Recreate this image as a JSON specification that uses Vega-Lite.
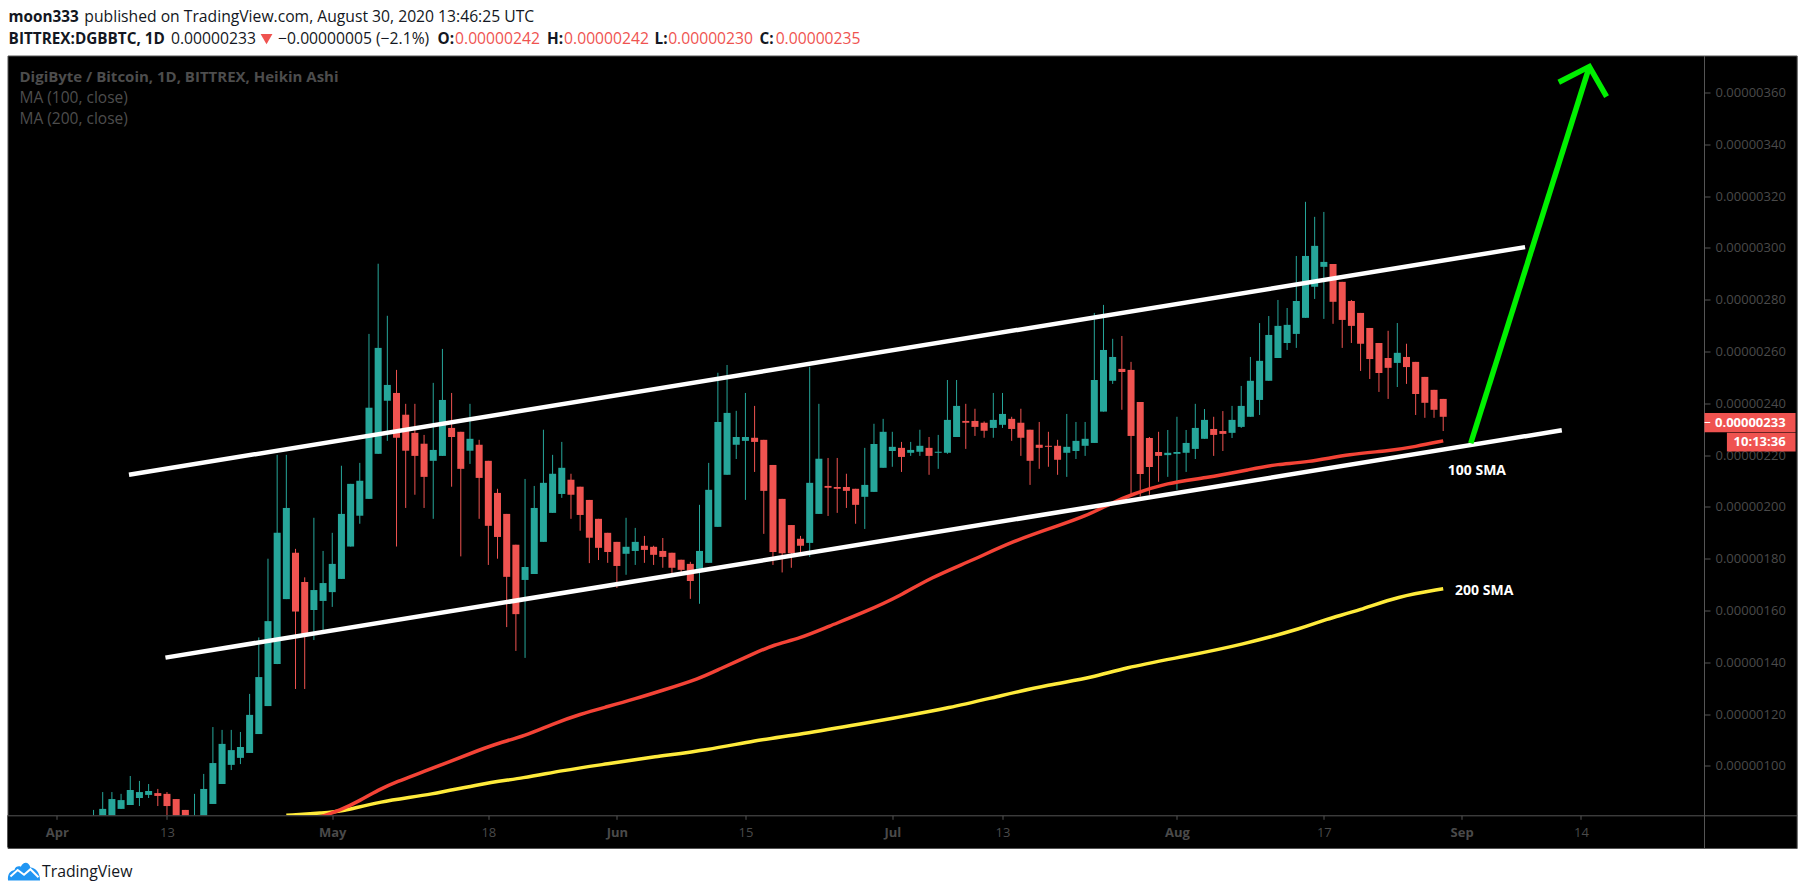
{
  "$schema": "https://vega.github.io/schema/vega-lite/v6.json",
  "autosize": {"type": "none"},
  "width": 1789.2,
  "height": 792.5,
  "padding": {"left": 7.5, "top": 55.5, "right": 8.3, "bottom": 47},
  "background": "#ffffff",
  "view": {"fill": "#000000", "stroke": "#555555"},
  "datasets": {
    "candles": [
      {"date":"2020-04-05","open":76,"high":83,"low":75,"close":79},
      {"date":"2020-04-06","open":79,"high":89.9,"low":78,"close":83.4},
      {"date":"2020-04-07","open":80,"high":89.9,"low":79,"close":87.2},
      {"date":"2020-04-08","open":83.4,"high":89.2,"low":83.4,"close":86.8},
      {"date":"2020-04-09","open":84.9,"high":96.1,"low":84.9,"close":90.7},
      {"date":"2020-04-10","open":87.6,"high":94.2,"low":84.5,"close":89.9},
      {"date":"2020-04-11","open":88.8,"high":93,"low":87.6,"close":90.3},
      {"date":"2020-04-12","open":89.5,"high":91.1,"low":84.5,"close":88.4},
      {"date":"2020-04-13","open":89.2,"high":89.9,"low":79,"close":84.5},
      {"date":"2020-04-14","open":87.2,"high":87.2,"low":78,"close":80},
      {"date":"2020-04-15","open":83,"high":83,"low":77,"close":79},
      {"date":"2020-04-16","open":76,"high":89.2,"low":74,"close":80},
      {"date":"2020-04-17","open":80,"high":96.9,"low":79,"close":91.1},
      {"date":"2020-04-18","open":85.3,"high":115,"low":85.3,"close":101.1},
      {"date":"2020-04-19","open":93,"high":113.9,"low":93,"close":108.5},
      {"date":"2020-04-20","open":100.4,"high":113.9,"low":98.4,"close":106.1},
      {"date":"2020-04-21","open":103.1,"high":113.1,"low":100.7,"close":107.3},
      {"date":"2020-04-22","open":105,"high":127.8,"low":105,"close":119.7},
      {"date":"2020-04-23","open":112.3,"high":149.6,"low":112.3,"close":134.3},
      {"date":"2020-04-24","open":123.1,"high":180,"low":123.1,"close":155.9},
      {"date":"2020-04-25","open":139.3,"high":220.1,"low":139.3,"close":190},
      {"date":"2020-04-26","open":164.4,"high":220.1,"low":164.4,"close":199.6},
      {"date":"2020-04-27","open":182.3,"high":183.8,"low":129.7,"close":159.6},
      {"date":"2020-04-28","open":171,"high":172.8,"low":129.7,"close":150.9},
      {"date":"2020-04-29","open":160.2,"high":195.8,"low":148.6,"close":167.9},
      {"date":"2020-04-30","open":163.7,"high":183,"low":152.5,"close":170.6},
      {"date":"2020-05-01","open":167.1,"high":190,"low":161.4,"close":178},
      {"date":"2020-05-02","open":172.2,"high":215.9,"low":172.2,"close":197.3},
      {"date":"2020-05-03","open":184.7,"high":208.9,"low":184.7,"close":208.9},
      {"date":"2020-05-04","open":196.6,"high":217,"low":193.5,"close":210.1},
      {"date":"2020-05-05","open":203.1,"high":266.8,"low":203.1,"close":238.3},
      {"date":"2020-05-06","open":220.5,"high":293.9,"low":220.5,"close":261.4},
      {"date":"2020-05-07","open":241,"high":273.8,"low":225.5,"close":247.1},
      {"date":"2020-05-08","open":244,"high":252.9,"low":184.7,"close":226.7},
      {"date":"2020-05-09","open":235.6,"high":239.8,"low":199.6,"close":221.7},
      {"date":"2020-05-10","open":228.6,"high":239.8,"low":204.7,"close":219.7},
      {"date":"2020-05-11","open":224.4,"high":227.8,"low":199.6,"close":211.6},
      {"date":"2020-05-12","open":217.8,"high":247.9,"low":195.4,"close":222},
      {"date":"2020-05-13","open":219.7,"high":261,"low":219.7,"close":241.3},
      {"date":"2020-05-14","open":230.5,"high":244,"low":207.8,"close":227},
      {"date":"2020-05-15","open":229,"high":229,"low":180.9,"close":214.7},
      {"date":"2020-05-16","open":221.7,"high":239.8,"low":216.6,"close":226.3},
      {"date":"2020-05-17","open":224,"high":225.9,"low":195.4,"close":211.2},
      {"date":"2020-05-18","open":217.8,"high":217.8,"low":177.6,"close":192.7},
      {"date":"2020-05-19","open":205.4,"high":207,"low":180,"close":188.4},
      {"date":"2020-05-20","open":197.3,"high":197.3,"low":153.6,"close":173},
      {"date":"2020-05-21","open":185.4,"high":185.4,"low":144.4,"close":158.6},
      {"date":"2020-05-22","open":171.8,"high":210.8,"low":141.7,"close":176.8},
      {"date":"2020-05-23","open":174.1,"high":208.1,"low":174.1,"close":199.6},
      {"date":"2020-05-24","open":186.5,"high":229.8,"low":186.5,"close":209.3},
      {"date":"2020-05-25","open":197.7,"high":220.1,"low":197.7,"close":212.8},
      {"date":"2020-05-26","open":205,"high":225.1,"low":203.5,"close":215.1},
      {"date":"2020-05-27","open":210.5,"high":212.8,"low":195.4,"close":204.7},
      {"date":"2020-05-28","open":207.8,"high":207.8,"low":190.8,"close":196.9},
      {"date":"2020-05-29","open":202.7,"high":202.7,"low":178.3,"close":188.1},
      {"date":"2020-05-30","open":195.4,"high":195.4,"low":179.5,"close":184.2},
      {"date":"2020-05-31","open":190,"high":190,"low":178.4,"close":182.6},
      {"date":"2020-06-01","open":186.5,"high":186.5,"low":168.7,"close":177.2},
      {"date":"2020-06-02","open":181.9,"high":195.8,"low":173.8,"close":184.6},
      {"date":"2020-06-03","open":183,"high":191.9,"low":177.6,"close":186.5},
      {"date":"2020-06-04","open":185,"high":188.8,"low":178.4,"close":183.4},
      {"date":"2020-06-05","open":184.6,"high":185,"low":177.6,"close":181.5},
      {"date":"2020-06-06","open":183,"high":188,"low":176.5,"close":180.7},
      {"date":"2020-06-07","open":182.3,"high":182.3,"low":174.4,"close":176.5},
      {"date":"2020-06-08","open":179.6,"high":179.6,"low":173.8,"close":175.7},
      {"date":"2020-06-09","open":178,"high":178.8,"low":164.5,"close":171.4},
      {"date":"2020-06-10","open":176.1,"high":200.8,"low":162.6,"close":183},
      {"date":"2020-06-11","open":178.4,"high":217,"low":178.4,"close":206.6},
      {"date":"2020-06-12","open":192.3,"high":251.8,"low":192.3,"close":232.8},
      {"date":"2020-06-13","open":212.4,"high":254.8,"low":212.4,"close":236.3},
      {"date":"2020-06-14","open":224,"high":237.1,"low":218.5,"close":227},
      {"date":"2020-06-15","open":225.5,"high":244,"low":202.7,"close":227},
      {"date":"2020-06-16","open":226.7,"high":239,"low":213.5,"close":225.1},
      {"date":"2020-06-17","open":225.9,"high":225.9,"low":189.6,"close":206.2},
      {"date":"2020-06-18","open":216.2,"high":216.2,"low":177.6,"close":182.6},
      {"date":"2020-06-19","open":203.1,"high":203.1,"low":174.7,"close":182.1},
      {"date":"2020-06-20","open":193,"high":193,"low":176.5,"close":182.1},
      {"date":"2020-06-21","open":187.7,"high":188.8,"low":182,"close":185},
      {"date":"2020-06-22","open":186.1,"high":254.1,"low":180.7,"close":209.3},
      {"date":"2020-06-23","open":197.3,"high":239.8,"low":197.3,"close":218.6},
      {"date":"2020-06-24","open":208.1,"high":218.9,"low":196.5,"close":207.4},
      {"date":"2020-06-25","open":207.7,"high":218.9,"low":197.7,"close":207},
      {"date":"2020-06-26","open":207.7,"high":212.8,"low":199.6,"close":206.2},
      {"date":"2020-06-27","open":207,"high":207,"low":193.5,"close":200.8},
      {"date":"2020-06-28","open":203.9,"high":222.8,"low":191.5,"close":208.5},
      {"date":"2020-06-29","open":205.8,"high":232.1,"low":205.8,"close":224.3},
      {"date":"2020-06-30","open":215.1,"high":234,"low":215.1,"close":229},
      {"date":"2020-07-01","open":221.6,"high":229,"low":215.5,"close":223.2},
      {"date":"2020-07-02","open":222.8,"high":225.1,"low":213.5,"close":219.3},
      {"date":"2020-07-03","open":220.9,"high":225.1,"low":219.7,"close":222},
      {"date":"2020-07-04","open":221.3,"high":229.8,"low":219.7,"close":223.6},
      {"date":"2020-07-05","open":222.8,"high":227,"low":212.4,"close":219.7},
      {"date":"2020-07-06","open":220.9,"high":227.8,"low":214.7,"close":221.3},
      {"date":"2020-07-07","open":220.9,"high":249,"low":220.5,"close":233.6},
      {"date":"2020-07-08","open":227,"high":249,"low":227,"close":239},
      {"date":"2020-07-09","open":233.2,"high":239.8,"low":222.4,"close":232.5},
      {"date":"2020-07-10","open":233.2,"high":237.9,"low":227.4,"close":230.9},
      {"date":"2020-07-11","open":232.5,"high":233,"low":226.7,"close":229.4},
      {"date":"2020-07-12","open":230.5,"high":244,"low":226.7,"close":233.6},
      {"date":"2020-07-13","open":231.7,"high":244,"low":230.5,"close":235.9},
      {"date":"2020-07-14","open":234,"high":234.8,"low":225.5,"close":230.1},
      {"date":"2020-07-15","open":232.5,"high":237.9,"low":219.7,"close":226.7},
      {"date":"2020-07-16","open":229.8,"high":229.8,"low":208.5,"close":217.8},
      {"date":"2020-07-17","open":224,"high":232.8,"low":214.7,"close":222.8},
      {"date":"2020-07-18","open":223.6,"high":229,"low":215.5,"close":223.2},
      {"date":"2020-07-19","open":223.6,"high":225.9,"low":212.4,"close":218.2},
      {"date":"2020-07-20","open":220.9,"high":235.9,"low":211.6,"close":223.2},
      {"date":"2020-07-21","open":221.6,"high":232.8,"low":218.5,"close":225.5},
      {"date":"2020-07-22","open":223.6,"high":232.8,"low":219.7,"close":226.3},
      {"date":"2020-07-23","open":224.7,"high":274.9,"low":224.7,"close":249},
      {"date":"2020-07-24","open":236.8,"high":278,"low":236.8,"close":260.6},
      {"date":"2020-07-25","open":248.7,"high":264.9,"low":247.5,"close":257.9},
      {"date":"2020-07-26","open":253.3,"high":266,"low":237.5,"close":252.1},
      {"date":"2020-07-27","open":252.9,"high":256,"low":205,"close":227.4},
      {"date":"2020-07-28","open":240.5,"high":240.5,"low":204,"close":212.7},
      {"date":"2020-07-29","open":226.6,"high":227,"low":204.7,"close":215.4},
      {"date":"2020-07-30","open":221.2,"high":229,"low":209.7,"close":219.7},
      {"date":"2020-07-31","open":220,"high":229.7,"low":211.6,"close":220.9},
      {"date":"2020-08-01","open":220.5,"high":234.8,"low":206.6,"close":221.2},
      {"date":"2020-08-02","open":220.9,"high":229.7,"low":213.5,"close":224.7},
      {"date":"2020-08-03","open":222.4,"high":239.8,"low":218.5,"close":230.5},
      {"date":"2020-08-04","open":226.3,"high":237.8,"low":226.3,"close":233.6},
      {"date":"2020-08-05","open":230.1,"high":234.8,"low":219.7,"close":227.8},
      {"date":"2020-08-06","open":229.3,"high":237,"low":221.6,"close":228.2},
      {"date":"2020-08-07","open":228.6,"high":239,"low":226.6,"close":233.6},
      {"date":"2020-08-08","open":230.9,"high":246.7,"low":230.5,"close":239},
      {"date":"2020-08-09","open":234.8,"high":257.9,"low":234.8,"close":248.7},
      {"date":"2020-08-10","open":241.3,"high":271,"low":235.5,"close":256.4},
      {"date":"2020-08-11","open":248.7,"high":273.7,"low":248.7,"close":266.4},
      {"date":"2020-08-12","open":257.5,"high":279.9,"low":257.5,"close":269.9},
      {"date":"2020-08-13","open":263.3,"high":276.8,"low":260.6,"close":270.3},
      {"date":"2020-08-14","open":266.8,"high":296.9,"low":261.4,"close":279.5},
      {"date":"2020-08-15","open":273,"high":317.8,"low":273,"close":296.9},
      {"date":"2020-08-16","open":285,"high":312,"low":280.3,"close":300.8},
      {"date":"2020-08-17","open":292.7,"high":313.9,"low":272.6,"close":294.6},
      {"date":"2020-08-18","open":293.8,"high":293.8,"low":270.7,"close":279.2},
      {"date":"2020-08-19","open":286.9,"high":286.9,"low":261.4,"close":272.2},
      {"date":"2020-08-20","open":279.5,"high":279.9,"low":263.3,"close":269.9},
      {"date":"2020-08-21","open":274.9,"high":274.9,"low":252.5,"close":263},
      {"date":"2020-08-22","open":269.1,"high":269.1,"low":249.4,"close":257.1},
      {"date":"2020-08-23","open":263.3,"high":263.3,"low":244.4,"close":251.7},
      {"date":"2020-08-24","open":257.5,"high":268,"low":241.7,"close":253.7},
      {"date":"2020-08-25","open":255.6,"high":271,"low":246.3,"close":259.5},
      {"date":"2020-08-26","open":257.9,"high":263,"low":247.5,"close":254},
      {"date":"2020-08-27","open":256,"high":256,"low":235.5,"close":243.6},
      {"date":"2020-08-28","open":250.2,"high":250.2,"low":234.4,"close":240.2},
      {"date":"2020-08-29","open":245.2,"high":245.2,"low":234.4,"close":237.5},
      {"date":"2020-08-30","open":241.7,"high":241.7,"low":229.3,"close":234.8}
    ],
    "ma100": [
      {"date":"2020-04-29","price":79.5},
      {"date":"2020-05-02","price":83},
      {"date":"2020-05-04","price":86.6},
      {"date":"2020-05-06","price":90.7},
      {"date":"2020-05-08","price":93.9},
      {"date":"2020-05-11","price":97.8},
      {"date":"2020-05-14","price":102},
      {"date":"2020-05-17","price":106.1},
      {"date":"2020-05-19","price":108.7},
      {"date":"2020-05-22","price":111.6},
      {"date":"2020-05-25","price":116.2},
      {"date":"2020-05-28","price":120},
      {"date":"2020-05-31","price":122.9},
      {"date":"2020-06-03","price":125.9},
      {"date":"2020-06-06","price":129.2},
      {"date":"2020-06-10","price":133.7},
      {"date":"2020-06-12","price":137.1},
      {"date":"2020-06-16","price":143.5},
      {"date":"2020-06-18","price":146.7},
      {"date":"2020-06-21","price":149.3},
      {"date":"2020-06-24","price":153.8},
      {"date":"2020-06-28","price":159.4},
      {"date":"2020-07-02","price":165.9},
      {"date":"2020-07-05","price":172.4},
      {"date":"2020-07-10","price":179.8},
      {"date":"2020-07-14","price":186.6},
      {"date":"2020-07-19","price":192.7},
      {"date":"2020-07-22","price":196.3},
      {"date":"2020-07-25","price":201.7},
      {"date":"2020-07-27","price":204.7},
      {"date":"2020-07-31","price":209.4},
      {"date":"2020-08-04","price":211.1},
      {"date":"2020-08-09","price":214.5},
      {"date":"2020-08-12","price":216.6},
      {"date":"2020-08-15","price":217.1},
      {"date":"2020-08-20","price":220.5},
      {"date":"2020-08-24","price":221.6},
      {"date":"2020-08-27","price":223.3},
      {"date":"2020-08-30","price":225.5}
    ],
    "ma200": [
      {"date":"2020-04-26","price":80.9},
      {"date":"2020-04-30","price":81.9},
      {"date":"2020-05-02","price":82.3},
      {"date":"2020-05-06","price":86.2},
      {"date":"2020-05-12","price":89},
      {"date":"2020-05-17","price":93},
      {"date":"2020-05-22","price":95.4},
      {"date":"2020-05-26","price":98.2},
      {"date":"2020-05-31","price":100.8},
      {"date":"2020-06-05","price":103.5},
      {"date":"2020-06-11","price":106.2},
      {"date":"2020-06-16","price":109.8},
      {"date":"2020-06-21","price":112.2},
      {"date":"2020-06-28","price":116.5},
      {"date":"2020-07-02","price":119},
      {"date":"2020-07-07","price":122.2},
      {"date":"2020-07-13","price":127.3},
      {"date":"2020-07-18","price":131.3},
      {"date":"2020-07-23","price":134.2},
      {"date":"2020-07-26","price":137.7},
      {"date":"2020-08-02","price":142.4},
      {"date":"2020-08-08","price":146.7},
      {"date":"2020-08-15","price":153.5},
      {"date":"2020-08-17","price":156.4},
      {"date":"2020-08-21","price":160.2},
      {"date":"2020-08-25","price":165.4},
      {"date":"2020-08-30","price":168.4}
    ],
    "channel": [
      {"series":"upper","date":"2020-04-08T20:40:00Z","price":212.4},
      {"series":"upper","date":"2020-09-07T22:00:00Z","price":300.3},
      {"series":"lower","date":"2020-04-12T20:00:00Z","price":141.8},
      {"series":"lower","date":"2020-09-11T22:00:00Z","price":229.6}
    ],
    "arrow": [
      {"series":"shaft","date":"2020-09-02T00:00:00Z","price":224.6},
      {"series":"shaft","date":"2020-09-14T22:00:00Z","price":370},
      {"series":"head","date":"2020-09-11T14:00:00Z","price":364},
      {"series":"head","date":"2020-09-14T22:00:00Z","price":370},
      {"series":"head","date":"2020-09-16T19:00:00Z","price":358.4}
    ],
    "band": [
      {"date":"2020-03-26T15:07:00Z","date2":"2020-09-27T09:00:00Z","price":68.6,"price2":80.97}
    ],
    "tags": [
      {"date":"2020-09-27T11:00:00Z","date2":"2020-10-07T09:00:00Z","price":228.8,"price2":236.3},
      {"date":"2020-09-29T21:36:00Z","date2":"2020-10-07T09:00:00Z","price":221.4,"price2":228.6}
    ],
    "tag_tick": [
      {"date":"2020-09-27T11:00:00Z","date2":"2020-09-28T02:00:00Z","price":232.6}
    ],
    "tag_text": [
      {"date":"2020-10-06T07:00:00Z","price":232.5,"label":"0.00000233"},
      {"date":"2020-10-06T07:00:00Z","price":224.9,"label":"10:13:36"}
    ],
    "sma_text": [
      {"date":"2020-08-30T12:00:00Z","price":214,"label":"100 SMA"},
      {"date":"2020-08-31T07:00:00Z","price":167.5,"label":"200 SMA"}
    ],
    "header_bold": [
      {"date":"2020-03-26T18:00:00Z","price":389.1,"label":"moon333"},
      {"date":"2020-03-26T18:00:00Z","price":380.6,"label":"BITTREX:DGBBTC, 1D"},
      {"date":"2020-05-12T11:00:00Z","price":380.6,"label":"O:"},
      {"date":"2020-05-24T09:36:00Z","price":380.6,"label":"H:"},
      {"date":"2020-06-05T02:24:00Z","price":380.6,"label":"L:"},
      {"date":"2020-06-16T13:00:00Z","price":380.6,"label":"C:"}
    ],
    "header_plain": [
      {"date":"2020-04-04T00:00:00Z","price":389.1,"label":"published on TradingView.com, August 30, 2020 13:46:25 UTC"},
      {"date":"2020-04-13T10:30:00Z","price":380.6,"label":"0.00000233"},
      {"date":"2020-04-25T02:24:00Z","price":380.6,"label":"−0.00000005 (−2.1%)"}
    ],
    "header_red": [
      {"date":"2020-05-14T09:00:00Z","price":380.6,"label":"0.00000242"},
      {"date":"2020-05-26T06:00:00Z","price":380.6,"label":"0.00000242"},
      {"date":"2020-06-06T14:00:00Z","price":380.6,"label":"0.00000230"},
      {"date":"2020-06-18T07:00:00Z","price":380.6,"label":"0.00000235"}
    ],
    "header_arrow": [
      {"date":"2020-04-23T20:10:00Z","price":380.6}
    ],
    "legend_title": [
      {"date":"2020-03-27T22:30:00Z","price":365.9,"label":"DigiByte / Bitcoin, 1D, BITTREX, Heikin Ashi"}
    ],
    "legend_items": [
      {"date":"2020-03-27T22:30:00Z","price":357.7,"label":"MA (100, close)"},
      {"date":"2020-03-27T22:30:00Z","price":349.8,"label":"MA (200, close)"}
    ],
    "brand": [
      {"date":"2020-03-30T09:20:00Z","price":59.2,"label":"TradingView"}
    ],
    "logo": [
      {"date":"2020-03-28T10:20:00Z","price":59.5}
    ]
  },
  "encoding": {
    "x": {
      "field": "date",
      "type": "temporal",
      "scale": {
        "type": "utc",
        "padding": 0,
        "domain": [
          {"year": 2020, "month": 3, "date": 26, "hours": 15, "minutes": 7, "utc": true},
          {"year": 2020, "month": 10, "date": 7, "hours": 12, "utc": true}
        ]
      },
      "axis": {
        "title": null,
        "orient": "bottom",
        "offset": -32.7,
        "zindex": 1,
        "grid": false,
        "domainColor": "#555555",
        "tickColor": "#555555",
        "tickSize": 4,
        "labelColor": "#4a4a4a",
        "labelFont": "Open Sans",
        "labelFontSize": 13,
        "labelPadding": 7,
        "labelFontWeight": {"condition": {"test": "utcdate(datum.value) == 1", "value": "bold"}, "value": "normal"},
        "labelFlush": false,
        "labelOverlap": false,
        "values": [
          {"year": 2020, "month": 4, "date": 1, "utc": true},
          {"year": 2020, "month": 4, "date": 13, "utc": true},
          {"year": 2020, "month": 5, "date": 1, "utc": true},
          {"year": 2020, "month": 5, "date": 18, "utc": true},
          {"year": 2020, "month": 6, "date": 1, "utc": true},
          {"year": 2020, "month": 6, "date": 15, "utc": true},
          {"year": 2020, "month": 7, "date": 1, "utc": true},
          {"year": 2020, "month": 7, "date": 13, "utc": true},
          {"year": 2020, "month": 8, "date": 1, "utc": true},
          {"year": 2020, "month": 8, "date": 17, "utc": true},
          {"year": 2020, "month": 9, "date": 1, "utc": true},
          {"year": 2020, "month": 9, "date": 14, "utc": true}
        ],
        "labelExpr": "utcdate(datum.value) == 1 ? utcFormat(datum.value, '%b') : utcFormat(datum.value, '%d')"
      }
    },
    "y": {
      "field": "price",
      "type": "quantitative",
      "scale": {"domain": [68.3, 374.3], "nice": false, "zero": false},
      "axis": {
        "title": null,
        "orient": "right",
        "offset": -92.7,
        "zindex": 0,
        "grid": false,
        "domainColor": "#555555",
        "tickColor": "#555555",
        "tickSize": 6,
        "labelColor": "#4a4a4a",
        "labelFont": "Open Sans",
        "labelFontSize": 13,
        "labelPadding": 5,
        "labelOverlap": false,
        "labelFlush": false,
        "values": [100, 120, 140, 160, 180, 200, 220, 240, 260, 280, 300, 320, 340, 360],
        "labelExpr": "format(datum.value / 100000000, '.8f')"
      }
    }
  },
  "layer": [
    {
      "data": {"name": "candles"},
      "mark": {"type": "rule", "strokeWidth": 1},
      "encoding": {
        "y": {"field": "low", "type": "quantitative", "scale": {"domain": [68.3, 374.3], "nice": false, "zero": false}},
        "y2": {"field": "high"},
        "color": {"condition": {"test": "datum.close >= datum.open", "value": "#26a69a"}, "value": "#ef5350"}
      }
    },
    {
      "data": {"name": "candles"},
      "mark": {"type": "bar", "size": 7, "orient": "vertical"},
      "encoding": {
        "y": {"field": "open", "type": "quantitative", "scale": {"domain": [68.3, 374.3], "nice": false, "zero": false}},
        "y2": {"field": "close"},
        "color": {"condition": {"test": "datum.close >= datum.open", "value": "#26a69a"}, "value": "#ef5350"}
      }
    },
    {
      "data": {"name": "ma200"},
      "mark": {"type": "line", "color": "#ffeb3b", "strokeWidth": 3.5, "interpolate": "basis"},
      "encoding": {}
    },
    {
      "data": {"name": "ma100"},
      "mark": {"type": "line", "color": "#f44336", "strokeWidth": 3.5, "interpolate": "basis"},
      "encoding": {}
    },
    {
      "data": {"name": "channel"},
      "mark": {"type": "line", "color": "#ffffff", "strokeWidth": 4.5},
      "encoding": {"detail": {"field": "series"}}
    },
    {
      "data": {"name": "arrow"},
      "mark": {"type": "line", "color": "#00f000", "strokeWidth": 5.5},
      "encoding": {"detail": {"field": "series"}}
    },
    {
      "data": {"name": "band"},
      "mark": {"type": "rect", "color": "#000000"},
      "encoding": {"x2": {"field": "date2"}, "y2": {"field": "price2"}}
    },
    {
      "data": {"name": "tags"},
      "mark": {"type": "rect", "color": "#ef5350"},
      "encoding": {"x2": {"field": "date2"}, "y2": {"field": "price2"}}
    },
    {
      "data": {"name": "tag_tick"},
      "mark": {"type": "rule", "color": "#ffffff", "strokeWidth": 1},
      "encoding": {"x2": {"field": "date2"}}
    },
    {
      "data": {"name": "tag_text"},
      "mark": {"type": "text", "align": "right", "baseline": "middle", "font": "Open Sans", "fontSize": 13, "fontWeight": "bold", "color": "#ffffff"},
      "encoding": {"text": {"field": "label"}}
    },
    {
      "data": {"name": "sma_text"},
      "mark": {"type": "text", "align": "left", "baseline": "middle", "font": "Open Sans", "fontSize": 14, "fontWeight": "bold", "color": "#ffffff"},
      "encoding": {"text": {"field": "label"}}
    },
    {
      "data": {"name": "legend_title"},
      "mark": {"type": "text", "align": "left", "baseline": "middle", "font": "Open Sans", "fontSize": 15, "fontWeight": "bold", "color": "#4d4d4d"},
      "encoding": {"text": {"field": "label"}}
    },
    {
      "data": {"name": "legend_items"},
      "mark": {"type": "text", "align": "left", "baseline": "middle", "font": "Open Sans", "fontSize": 15.5, "color": "#4d4d4d"},
      "encoding": {"text": {"field": "label"}}
    },
    {
      "data": {"name": "header_bold"},
      "mark": {"type": "text", "align": "left", "baseline": "middle", "font": "Open Sans", "fontSize": 15.3, "fontWeight": "bold", "color": "#131722"},
      "encoding": {"text": {"field": "label"}}
    },
    {
      "data": {"name": "header_plain"},
      "mark": {"type": "text", "align": "left", "baseline": "middle", "font": "Open Sans", "fontSize": 15.7, "color": "#131722"},
      "encoding": {"text": {"field": "label"}}
    },
    {
      "data": {"name": "header_red"},
      "mark": {"type": "text", "align": "left", "baseline": "middle", "font": "Open Sans", "fontSize": 15.7, "color": "#ef5350"},
      "encoding": {"text": {"field": "label"}}
    },
    {
      "data": {"name": "header_arrow"},
      "mark": {"type": "point", "shape": "triangle-down", "filled": true, "opacity": 1, "color": "#ef5350", "size": 140},
      "encoding": {}
    },
    {
      "data": {"name": "brand"},
      "mark": {"type": "text", "align": "left", "baseline": "middle", "font": "Open Sans", "fontSize": 15.8, "color": "#131722"},
      "encoding": {"text": {"field": "label"}}
    },
    {
      "data": {"name": "logo"},
      "mark": {"type": "point", "shape": "M-1,0.6 C-1.05,0.2 -0.85,0 -0.6,-0.05 C-0.55,-0.3 -0.3,-0.3 -0.2,-0.25 C-0.05,-0.6 0.3,-0.6 0.4,-0.2 C0.7,-0.2 1,0.1 1,0.6 Z", "filled": true, "opacity": 1, "color": "#2196f3", "size": 1024},
      "encoding": {}
    },
    {
      "data": {"name": "logo"},
      "mark": {"type": "point", "shape": "M-0.85,0.35 L-0.4,-0.05 L0,0.25 L0.4,-0.1 L0.9,0.4", "filled": false, "opacity": 1, "color": "#ffffff", "strokeWidth": 2, "size": 1024},
      "encoding": {}
    }
  ]
}
